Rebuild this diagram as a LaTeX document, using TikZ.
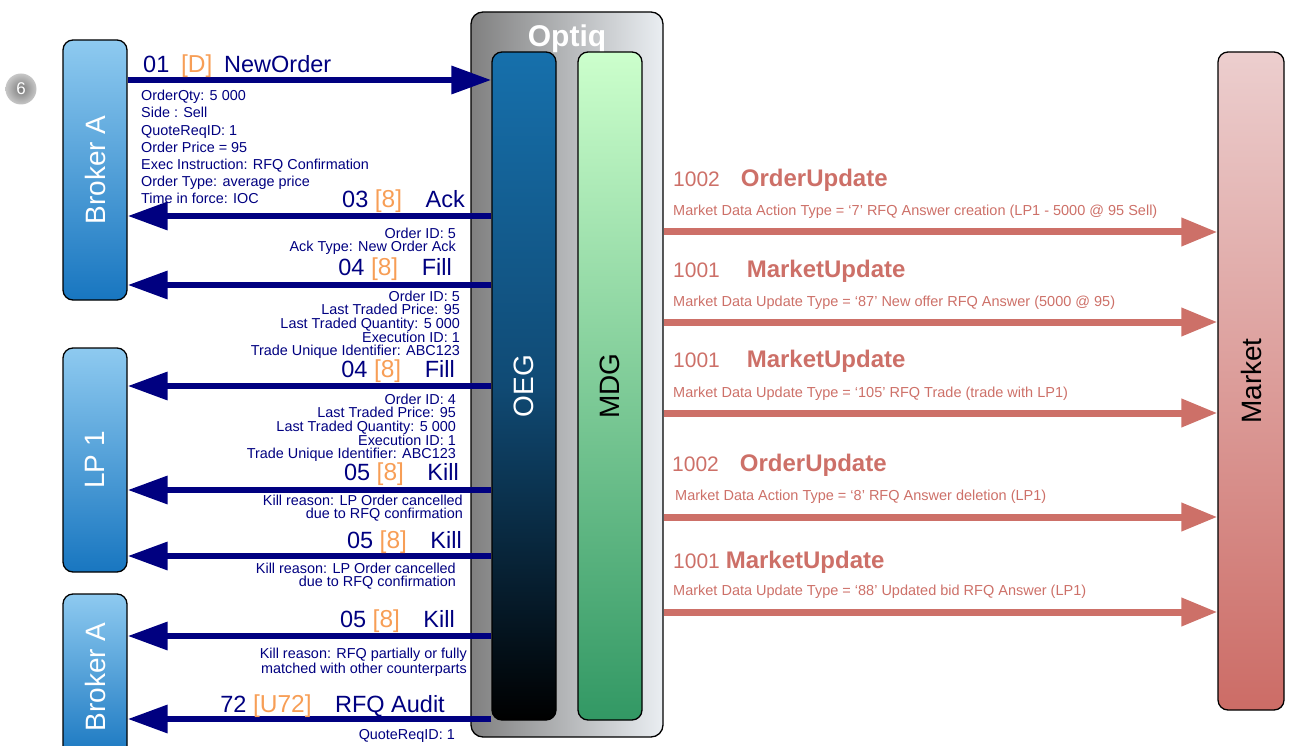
\documentclass[tikz,border=0pt]{standalone}
\usepackage{fontspec}
\setmainfont{Liberation Sans}
\usepackage{xcolor}
\usepackage{tikz}
\usetikzlibrary{arrows.meta,positioning,shadings}
\definecolor{navy}{RGB}{0,0,128}
\definecolor{tagorange}{RGB}{247,158,86}
\definecolor{mktred}{RGB}{205,112,104}
\definecolor{brktop}{RGB}{142,202,240}
\definecolor{brkbot}{RGB}{24,118,192}
\definecolor{oegtop}{RGB}{22,112,172}
\definecolor{oegmid}{RGB}{16,74,116}
\definecolor{mdgtop}{RGB}{204,255,204}
\definecolor{mdgbot}{RGB}{50,152,100}
\definecolor{mkttop}{RGB}{236,206,206}
\definecolor{mktbot}{RGB}{204,108,102}
\definecolor{optleft}{RGB}{128,128,128}
\definecolor{optright}{RGB}{234,238,242}
\newcommand{\fsz}[2]{\fontsize{#1}{#2}\selectfont}
\newcommand{\tg}[1]{{\fsz{24.5}{26}\textcolor{tagorange}{[#1]}}}

\begin{document}
\begin{tikzpicture}[x=1pt, y=-1pt,
  every node/.style={inner sep=0pt},
  actor/.style={draw, line width=1.3pt, rounded corners=10pt,
                minimum width=64pt, top color=brktop, bottom color=brkbot,
                text=white, font=\fsz{28}{30}},
  lane/.style={draw, line width=1.3pt, rounded corners=10pt,
               minimum width=64pt, minimum height=668pt, font=\fsz{28}{30}},
  msg/.style={text=navy, font=\fsz{23.5}{26}, anchor=base east},
  det/.style={text=navy, font=\fsz{14.4}{13.3}, align=right, anchor=north east},
  mmsg/.style={text=mktred, font=\fsz{21}{24}, anchor=base west},
  mdet/.style={text=mktred, font=\fsz{14.5}{15}, anchor=base west},
  nar/.style={navy, line width=6.5pt, -{Triangle[length=40pt, width=27pt]}},
  mar/.style={mktred, line width=7pt, -{Triangle[length=36pt, width=27pt]}}]
  \useasboundingbox (0,0) rectangle (1293,746);

  \node[circle, minimum size=31pt, inner color=black!52, outer color=black!22,
        text=white, font=\fsz{17}{18}] (stepno) at (21,89) {6};

  \node[actor, minimum height=260pt] (brkA) at (95,170) {\rotatebox{90}{Broker A}};
  \node[actor, minimum height=224pt] (lp) at (95,460) {\rotatebox{90}{LP 1}};
  \node[actor, minimum height=166pt] (brkB) at (95,677) {\rotatebox{90}{Broker A}};

  \node[draw, line width=1.3pt, rounded corners=12pt, minimum width=192pt,
        minimum height=725pt, left color=optleft, right color=optright]
        (optiq) at (567,374.5) {};
  \node[text=white, font=\bfseries\fsz{30}{32}, anchor=base] (optiqlbl)
        at (567,47) {Optiq};
  \node[lane, top color=oegtop, bottom color=black, middle color=oegmid,
        text=white] (oeg) at (524,386) {\rotatebox{90}{OEG}};
  \node[lane, top color=mdgtop, bottom color=mdgbot] (mdg) at (610,386)
        {\rotatebox{90}{MDG}};
  \node[lane, minimum width=66pt, minimum height=658pt, top color=mkttop,
        bottom color=mktbot] (mkt) at (1251,381) {\rotatebox{90}{Market}};

  \draw[nar] (brkA.east |- 0,80) -- (oeg.west |- 0,80);
  \draw[nar] (oeg.west |- 0,216) -- (brkA.east |- 0,216);
  \draw[nar] (oeg.west |- 0,285) -- (brkA.east |- 0,285);
  \draw[nar] (oeg.west |- 0,386) -- (lp.east |- 0,386);
  \draw[nar] (oeg.west |- 0,490) -- (lp.east |- 0,490);
  \draw[nar] (oeg.west |- 0,556) -- (lp.east |- 0,556);
  \draw[nar] (oeg.west |- 0,636) -- (brkB.east |- 0,636);
  \draw[nar] (oeg.west |- 0,719) -- (brkB.east |- 0,719);

  \node[msg, anchor=base west] (newo) at (143,73)
    {01\enskip\tg{D}\enskip NewOrder};
  \node[det, align=left, anchor=north west, font=\fsz{14.4}{17.2}] (newod)
    at (141,90) {OrderQty: 5 000\\Side : Sell\\QuoteReqID: 1\\
    Order Price = 95\\Exec Instruction: RFQ Confirmation\\
    Order Type: average price\\Time in force: IOC};
  \node[msg] (ack) at (465,208) {03 \tg{8}\quad Ack};
  \node[det] (ackd) at (456,228) {Order ID: 5\\Ack Type: New Order Ack};
  \node[msg] (filla) at (452,276) {04 \tg{8}\quad Fill};
  \node[det] (fillad) at (460,291) {Order ID: 5\\Last Traded Price: 95\\
    Last Traded Quantity: 5 000\\Execution ID: 1\\
    Trade Unique Identifier: ABC123};
  \node[msg] (fillb) at (455,377) {04 \tg{8}\quad Fill};
  \node[det] (fillbd) at (456,394) {Order ID: 4\\Last Traded Price: 95\\
    Last Traded Quantity: 5 000\\Execution ID: 1\\
    Trade Unique Identifier: ABC123};
  \node[msg] (killa) at (459,480) {05 \tg{8}\quad Kill};
  \node[det] (killad) at (463,495)
    {Kill reason: LP Order cancelled\\due to RFQ confirmation};
  \node[msg] (killb) at (462,548) {05 \tg{8}\quad Kill};
  \node[det] (killbd) at (456,563)
    {Kill reason: LP Order cancelled\\due to RFQ confirmation};
  \node[msg] (killc) at (455,627) {05 \tg{8}\quad Kill};
  \node[det] (killcd) at (467,648)
    {Kill reason: RFQ partially or fully\\matched with other counterparts};
  \node[msg] (audit) at (445,712) {72~\tg{U72}\quad RFQ Audit};
  \node[det] (auditd) at (455,729) {QuoteReqID: 1};

  \draw[mar] (optiq.east |- 0,232) -- (mkt.west |- 0,232);
  \draw[mar] (optiq.east |- 0,322) -- (mkt.west |- 0,322);
  \draw[mar] (optiq.east |- 0,413) -- (mkt.west |- 0,413);
  \draw[mar] (optiq.east |- 0,517) -- (mkt.west |- 0,517);
  \draw[mar] (optiq.east |- 0,612) -- (mkt.west |- 0,612);

  \node[mmsg] (oua) at (673,187) {1002\quad{\fsz{24}{26}\bfseries OrderUpdate}};
  \node[mdet] (ouad) at (673,216)
    {Market Data Action Type = ‘7’ RFQ Answer creation (LP1 - 5000 @ 95 Sell)};
  \node[mmsg] (mua) at (673,277) {1001\quad~{\fsz{24}{26}\bfseries MarketUpdate}};
  \node[mdet] (muad) at (673,306)
    {Market Data Update Type = ‘87’ New offer RFQ Answer (5000 @ 95)};
  \node[mmsg] (mub) at (673,367) {1001\quad~{\fsz{24}{26}\bfseries MarketUpdate}};
  \node[mdet] (mubd) at (673,397)
    {Market Data Update Type = ‘105’ RFQ Trade (trade with LP1)};
  \node[mmsg] (oub) at (672,471) {1002\quad{\fsz{24}{26}\bfseries OrderUpdate}};
  \node[mdet] (oubd) at (675,500)
    {Market Data Action Type = ‘8’ RFQ Answer deletion (LP1)};
  \node[mmsg] (muc) at (673,568) {1001 {\fsz{24}{26}\bfseries MarketUpdate}};
  \node[mdet] (mucd) at (673,595)
    {Market Data Update Type = ‘88’ Updated bid RFQ Answer (LP1)};
\end{tikzpicture}
\end{document}
